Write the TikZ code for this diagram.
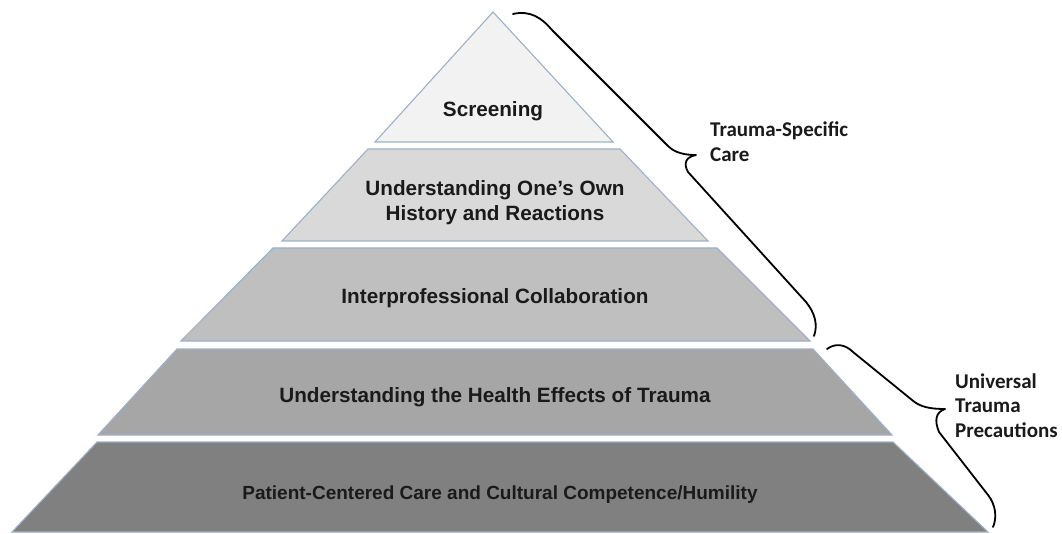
\documentclass[tikz,border=0pt]{standalone}
\usepackage{fontspec}
\setmainfont{Liberation Sans}
\newfontfamily\labelfont{Carlito}
\begin{document}
\begin{tikzpicture}[x=1pt,y=-1pt,
  tier/.style={draw=tierline,line width=1.1pt,line join=miter},
  tiertext/.style={font=\bfseries\fontsize{20.7}{25}\selectfont,text=textgray,align=center,anchor=base,inner sep=0pt},
  sidetext/.style={font=\labelfont\bfseries\fontsize{21}{24.5}\selectfont,text=textgray,align=left,anchor=base west,inner sep=0pt},
  bracepath/.style={draw=black,line width=1.8pt,line cap=round,line join=round}]
\definecolor{tierline}{HTML}{9DB0C6}
\definecolor{textgray}{HTML}{1A1A1A}
\definecolor{shadeA}{HTML}{F2F2F2}
\definecolor{shadeB}{HTML}{D9D9D9}
\definecolor{shadeC}{HTML}{BFBFBF}
\definecolor{shadeD}{HTML}{A6A6A6}
\definecolor{shadeE}{HTML}{808080}
\useasboundingbox (0,0) rectangle (1062,534);

% pyramid tiers, top to bottom
\path[tier,fill=shadeA] (493,12) -- (613,142) -- (375,142) -- cycle;
\path[tier,fill=shadeB] (368,149) -- (620,149) -- (708,241) -- (282,241) -- cycle;
\path[tier,fill=shadeC] (273,248) -- (717,248) -- (810,341) -- (181,341) -- cycle;
\path[tier,fill=shadeD] (177,349) -- (813,349) -- (892,435) -- (98,435) -- cycle;
\path[tier,fill=shadeE] (97,442) -- (893,442) -- (988,532) -- (12,532) -- cycle;

% tier captions
\node[tiertext] (screen) at (493,117) {Screening};
\node[tiertext] (history) at (495,196) {Understanding One’s Own};
\node[tiertext] (history2) at (495,221) {History and Reactions};
\node[tiertext] (collab) at (495,304) {Interprofessional Collaboration};
\node[tiertext] (health) at (495,402) {Understanding the Health Effects of Trauma};
\node[tiertext,font=\bfseries\fontsize{19}{23}\selectfont] (patient) at (500,499) {Patient-Centered Care and Cultural Competence/Humility};

% side labels
\node[sidetext] (specific) at (710,137) {Trauma-Specific};
\node[sidetext] (specific2) at (710,162) {Care};
\node[sidetext] (universal) at (955,388) {Universal};
\node[sidetext] (universal2) at (955,412) {Trauma};
\node[sidetext] (universal3) at (955,437) {Precautions};

% upper brace: top three tiers
\path[bracepath] (513,14) .. controls (530,10) and (542,18) .. (552,30)
  -- (668,146) .. controls (675,153) and (685,155) .. (696,155)
  .. controls (686,157) and (683,163) .. (688,172)
  -- (806,302) .. controls (815,313) and (818,325) .. (814,336);

% lower brace: bottom two tiers
\path[bracepath] (827,349) .. controls (835,343) and (845,344) .. (853,352)
  -- (912,400) .. controls (920,407) and (930,409) .. (945,409)
  .. controls (936,412) and (934,420) .. (939,432)
  -- (988,495) .. controls (996,505) and (997,518) .. (993,527);
\end{tikzpicture}
\end{document}
